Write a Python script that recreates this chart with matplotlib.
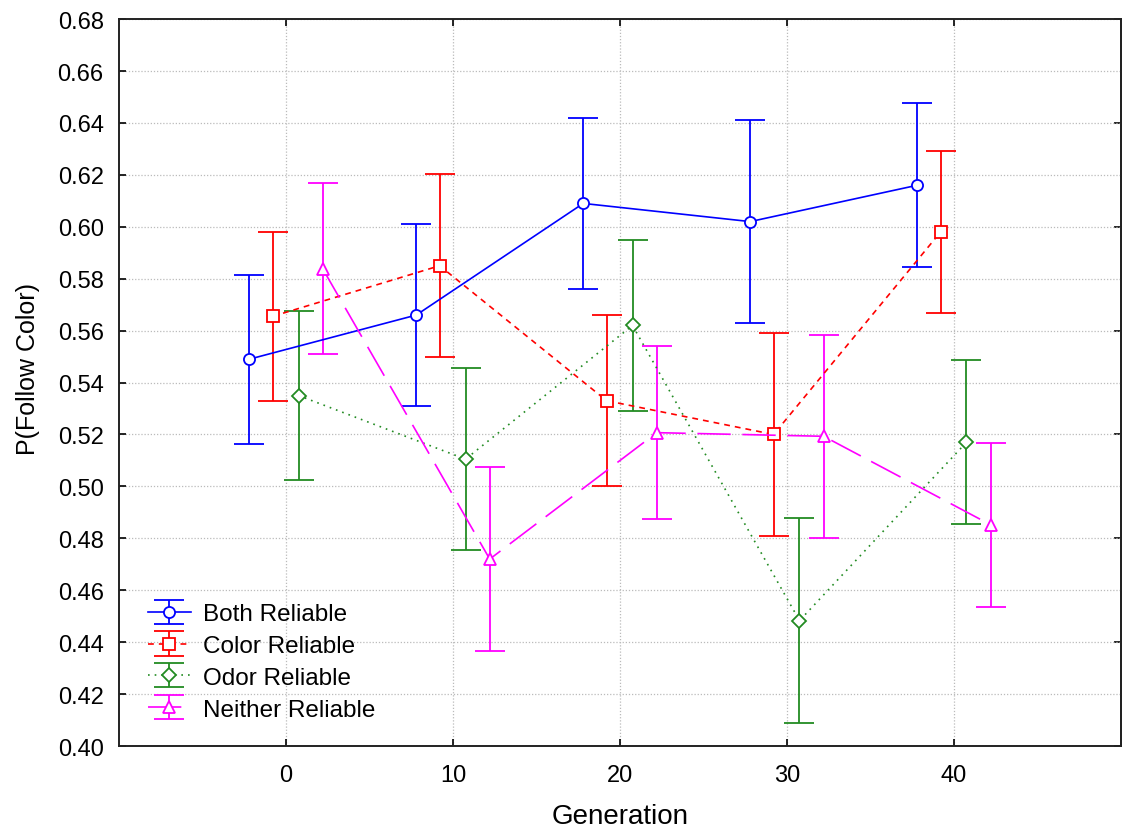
import matplotlib
matplotlib.use("Agg")
import matplotlib.pyplot as plt
import numpy as np

generation = [0, 10, 20, 30, 40]

both_mean = [0.549, 0.566, 0.609, 0.602, 0.616]
both_err = [0.0325, 0.035, 0.033, 0.039, 0.0315]
color_mean = [0.5655, 0.585, 0.533, 0.520, 0.598]
color_err = [0.0325, 0.0353, 0.0329, 0.0392, 0.0313]
odor_mean = [0.535, 0.5105, 0.562, 0.4483, 0.517]
odor_err = [0.0326, 0.035, 0.0329, 0.0394, 0.0316]
neither_mean = [0.5838, 0.472, 0.5207, 0.5193, 0.4852]
neither_err = [0.0329, 0.0353, 0.0333, 0.0392, 0.0316]

labels = ['Both Reliable', 'Color Reliable', 'Odor Reliable', 'Neither Reliable']

plt.rcParams['font.family'] = ['Liberation Sans', 'DejaVu Sans']

fig = plt.figure(figsize=(11.25, 8.37), dpi=100)
ax = fig.add_axes([0.1058, 0.1075, 0.8906, 0.8685])

# series drawn side by side around each generation
series = [
    (both_mean, both_err, -2.2, '#0000ff', '-', 'o', 8),
    (color_mean, color_err, -0.8, '#ff0000', (0, (3.5, 3)), 's', 9),
    (odor_mean, odor_err, 0.75, '#228b22', (0, (1, 3)), 'D', 7),
    (neither_mean, neither_err, 2.2, '#ff00ff', (0, (20, 7)), '^', 9),
]

x = np.array(generation, dtype=float)
for (m, e, off, c, ls, mk, ms), lab in zip(series, labels):
    cont = ax.errorbar(x + off, m, yerr=e, color=c, linestyle=ls, linewidth=1.2,
                       marker=mk, markersize=ms, markerfacecolor='white',
                       markeredgecolor=c, markeredgewidth=1.3,
                       ecolor=c, elinewidth=1.3, capsize=11, capthick=1.3,
                       label=lab, zorder=3)
    cont[2][0].set_linestyle('-')

ax.set_xlim(-10, 50)
ax.set_ylim(0.40, 0.68)
ax.set_xticks(generation)
yt = np.arange(0.40, 0.681, 0.02)
ax.set_yticks(yt)
ax.set_yticklabels(['%.2f' % v for v in yt])
ax.grid(True, color='#bbbbbb', linestyle=(0, (1, 1.5)), linewidth=0.9)
ax.set_axisbelow(True)

ax.tick_params(direction='in', top=True, right=False, length=5, width=1.2,
               labelsize=17, colors='black')
ax.tick_params(axis='x', pad=13)
ax.tick_params(axis='y', pad=11)

# right edge only carries every other tick
sec = ax.secondary_yaxis('right')
sec.set_yticks(np.arange(0.40, 0.681, 0.04))
sec.tick_params(direction='in', length=5, width=1.2, labelright=False)
sec.spines['right'].set_linewidth(1.4)
sec.spines['right'].set_color('#222222')

for s in ax.spines.values():
    s.set_linewidth(1.4)
    s.set_color('#222222')

ax.set_xlabel('Generation', fontsize=20, va='center')
ax.xaxis.set_label_coords(0.5, -0.096)
ax.set_ylabel('P(Follow Color)', fontsize=18, va='center')
ax.yaxis.set_label_coords(-0.091, 0.52)

leg = ax.legend(loc='lower left', bbox_to_anchor=(0.029, 0.035), frameon=False,
                fontsize=17.5, handlelength=1.75, labelspacing=0.4,
                handletextpad=0.5, borderaxespad=0, borderpad=0)

fig.savefig('out.png', dpi=100)
